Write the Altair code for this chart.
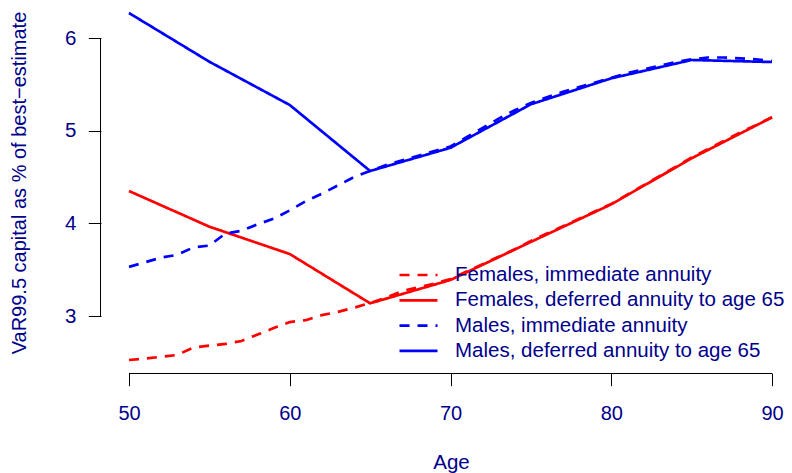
import altair as alt
import pandas as pd

NAVY = "#00008B"
FONT = "Liberation Sans"
FS = 20.5

# Ages
ages_annual = list(range(50, 91))
ages_deferred = [50, 55, 60, 65, 70, 75, 80, 85, 90]

# Series values (VaR99.5 capital as % of best-estimate)
females_immediate = [2.525, 2.54, 2.56, 2.58, 2.66, 2.68, 2.70, 2.73, 2.80, 2.87,
                     2.935, 2.955, 3.01, 3.045, 3.09, 3.14, 3.20, 3.27, 3.31, 3.35,
                     3.40, 3.48, 3.56, 3.64, 3.72, 3.81, 3.89, 3.97, 4.05, 4.13,
                     4.21, 4.31, 4.41, 4.51, 4.61, 4.71, 4.80, 4.89, 4.98, 5.06,
                     5.145]
females_deferred = [4.349, 3.964, 3.669, 3.137, 3.389, 3.80, 4.205, 4.702, 5.144]
males_immediate = [3.53, 3.58, 3.63, 3.66, 3.74, 3.76, 3.89, 3.92, 3.99, 4.05,
                   4.14, 4.24, 4.32, 4.41, 4.50, 4.565, 4.63, 4.68, 4.73, 4.78,
                   4.83, 4.93, 5.03, 5.13, 5.22, 5.30, 5.36, 5.42, 5.47, 5.52,
                   5.57, 5.62, 5.66, 5.70, 5.74, 5.77, 5.79, 5.79, 5.78, 5.77,
                   5.75]
males_deferred = [6.27, 5.744, 5.277, 4.565, 4.816, 5.285, 5.565, 5.763, 5.741]

series_names = ["Females, immediate annuity",
                "Females, deferred annuity to age 65",
                "Males, immediate annuity",
                "Males, deferred annuity to age 65"]
series_colors = ["#FF0000", "#FF0000", "#0000FF", "#0000FF"]
series_dash = [[10, 8], [1, 0], [10, 8], [1, 0]]

x_ticks = [50, 60, 70, 80, 90]
y_ticks = [3, 4, 5, 6]

rows = []
for a, v in zip(ages_annual, females_immediate):
    rows.append({"age": a, "value": v, "series": series_names[0], "order": 0})
for a, v in zip(ages_deferred, females_deferred):
    rows.append({"age": a, "value": v, "series": series_names[1], "order": 1})
for a, v in zip(ages_annual, males_immediate):
    rows.append({"age": a, "value": v, "series": series_names[2], "order": 2})
for a, v in zip(ages_deferred, males_deferred):
    rows.append({"age": a, "value": v, "series": series_names[3], "order": 3})
df = pd.DataFrame(rows)

xscale = alt.Scale(domain=[48.258, 90.746], nice=False, zero=False)
yscale = alt.Scale(domain=[2.385, 6.324], nice=False, zero=False)

xaxis = alt.Axis(values=x_ticks, grid=False, domain=False, tickColor="black",
                 tickSize=12.7, tickWidth=1, labelFontSize=20, labelColor=NAVY,
                 labelFont=FONT, labelPadding=18, title="Age", titleFontSize=FS,
                 titleFont=FONT, titleColor=NAVY, titleFontWeight="normal",
                 titleX=350, titleY=95, titleBaseline="alphabetic",
                 titleAnchor="start", titleAlign="center", labelFlush=False)
yaxis = alt.Axis(values=y_ticks, grid=False, domain=False, tickColor="black",
                 tickSize=12.7, tickWidth=1, labelFontSize=FS, labelColor=NAVY,
                 labelFont=FONT, labelPadding=12.5, labelBaseline="middle",
                 title="VaR99.5 capital as % of best\u2212estimate",
                 titleFontSize=20, titleFont=FONT, titleColor=NAVY,
                 titleFontWeight="normal", titleX=-82, titleY=174.5,
                 titleAngle=-90, titleBaseline="middle", titleAlign="center",
                 titleAnchor="start", labelFlush=False)

legend = alt.Legend(title=None, orient="none", legendX=297, legendY=257,
                    padding=0, labelFontSize=FS, labelColor=NAVY,
                    labelFont=FONT, symbolType="stroke", symbolSize=1444,
                    symbolStrokeWidth=2.7, clipHeight=20, rowPadding=4.3,
                    labelOffset=16, labelLimit=500)

lines = alt.Chart(df).mark_line(strokeWidth=2.7).encode(
    x=alt.X("age:Q", scale=xscale, axis=xaxis),
    y=alt.Y("value:Q", scale=yscale, axis=yaxis),
    color=alt.Color("series:N", scale=alt.Scale(domain=series_names, range=series_colors),
                    legend=legend),
    strokeDash=alt.StrokeDash("series:N", scale=alt.Scale(domain=series_names, range=series_dash),
                              legend=legend),
    order="order:Q",
    detail="series:N",
)

xaxis_df = pd.DataFrame({"age": [x_ticks[0]], "age2": [x_ticks[-1]]})
xline = alt.Chart(xaxis_df).mark_rule(color="black", strokeWidth=1).encode(
    x=alt.X("age:Q", scale=xscale, axis=xaxis),
    x2="age2:Q",
    y=alt.value(365.5),
)
yaxis_df = pd.DataFrame({"value": [y_ticks[0]], "value2": [y_ticks[-1]]})
yline = alt.Chart(yaxis_df).mark_rule(color="black", strokeWidth=1).encode(
    y=alt.Y("value:Q", scale=yscale, axis=yaxis),
    y2="value2:Q",
    x=alt.value(-0.5),
)

chart = alt.layer(lines, xline, yline).properties(
    width=683, height=365,
    autosize=alt.AutoSizeParams(type="none"),
    padding={"left": 93, "top": 0, "right": 0, "bottom": 100},
).configure_view(stroke=None)

chart.save("out.html", embed_options={"renderer": "svg", "actions": False})
